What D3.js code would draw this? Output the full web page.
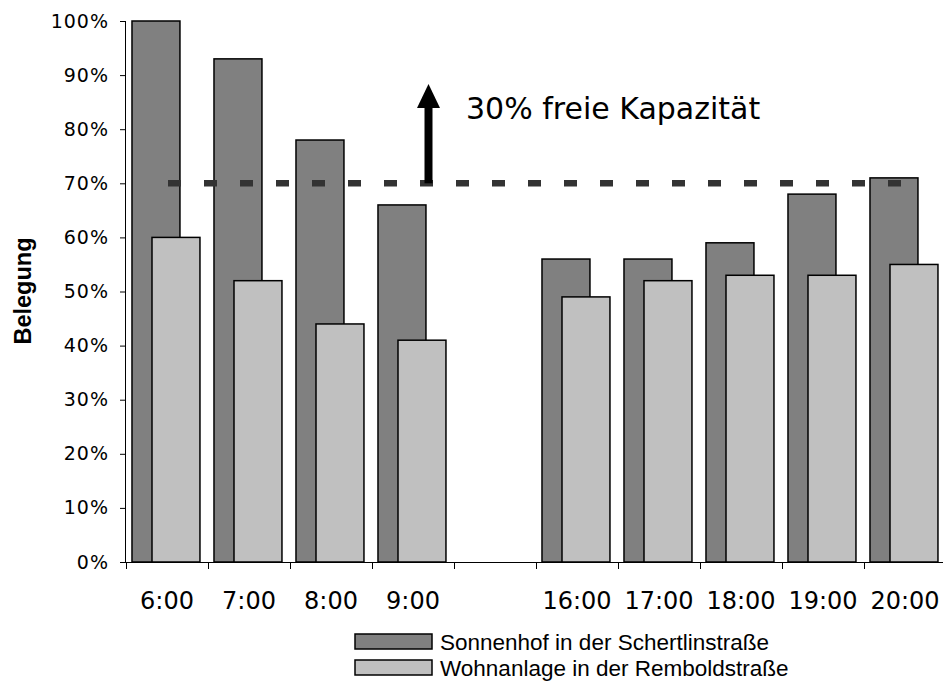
<!DOCTYPE html>
<html>
<head>
<meta charset="utf-8">
<script src="https://cdn.jsdelivr.net/npm/d3@7"></script>
<style>
  body { margin: 0; background: #fff; }
  svg { display: block; }
</style>
</head>
<body>
<script>
// data; the blank slot between 9:00 and 16:00 has no values
let categories = ["6:00", "7:00", "8:00", "9:00", "", "16:00", "17:00", "18:00", "19:00", "20:00"];
let sonnenhof = [100, 93, 78, 66, null, 56, 56, 59, 68, 71];
let wohnanlage = [60, 52, 44, 41, null, 49, 52, 53, 53, 55];
let seriesNames = ["Sonnenhof in der Schertlinstraße", "Wohnanlage in der Remboldstraße"];
let yTicks = [0, 10, 20, 30, 40, 50, 60, 70, 80, 90, 100];
let limit = 70;

let width = 943;
let height = 681;
let plotLeft = 126, plotRight = 946, plotTop = 21, plotBottom = 562;

let svg = d3.select("body").append("svg")
  .attr("width", width)
  .attr("height", height);

let keys = categories.map((c, i) => i);
let x = d3.scaleBand().domain(keys).range([plotLeft, plotRight]);
let y = d3.scaleLinear().domain([0, 100]).range([plotBottom, plotTop]);
let bw = x.bandwidth();

let rows = keys.map((i) => ({ i: i, a: sonnenhof[i], b: wohnanlage[i] }))
  .filter((d) => d.a !== null);

// dark bars behind, light bars in front
svg.selectAll("rect.dark")
  .data(rows)
  .enter()
  .append("rect")
  .classed("dark", true)
  .attr("x", (d) => x(d.i) + bw * 0.073)
  .attr("width", bw * 0.585)
  .attr("y", (d) => y(d.a))
  .attr("height", (d) => y(0) - y(d.a))
  .attr("fill", "#808080")
  .attr("stroke", "#000")
  .attr("stroke-width", 1.5);

svg.selectAll("rect.light")
  .data(rows)
  .enter()
  .append("rect")
  .classed("light", true)
  .attr("x", (d) => x(d.i) + bw * 0.317)
  .attr("width", bw * 0.585)
  .attr("y", (d) => y(d.b))
  .attr("height", (d) => y(0) - y(d.b))
  .attr("fill", "#c0c0c0")
  .attr("stroke", "#000")
  .attr("stroke-width", 1.5);

// y axis
let yAxis = svg.append("g")
  .attr("transform", `translate(${plotLeft},0)`)
  .call(d3.axisLeft(y).tickValues(yTicks).tickSize(6).tickFormat((d) => d + "%"));
yAxis.select(".domain").attr("d", `M-0.5,${plotTop}V${plotBottom}`);
yAxis.selectAll("text")
  .attr("x", -17)
  .attr("font-family", "DejaVu Sans, sans-serif")
  .attr("font-size", 19)
  .attr("letter-spacing", "1px")
  .attr("fill", "#000");

// x axis: ticks at the band edges, labels in the middle
let xAxis = svg.append("g");
xAxis.append("line")
  .attr("x1", plotLeft).attr("x2", width)
  .attr("y1", plotBottom + 0.5).attr("y2", plotBottom + 0.5)
  .attr("stroke", "#000");
xAxis.selectAll("line.tick")
  .data(keys)
  .enter()
  .append("line")
  .classed("tick", true)
  .attr("x1", (d) => Math.round(x(d)) + 0.5)
  .attr("x2", (d) => Math.round(x(d)) + 0.5)
  .attr("y1", plotBottom)
  .attr("y2", plotBottom + 7)
  .attr("stroke", "#000");
xAxis.selectAll("text")
  .data(keys)
  .enter()
  .append("text")
  .text((d) => categories[d])
  .attr("x", (d) => x(d) + bw / 2)
  .attr("y", 609)
  .attr("text-anchor", "middle")
  .attr("font-family", "DejaVu Sans, sans-serif")
  .attr("font-size", 24);

svg.append("text")
  .text("Belegung")
  .attr("transform", "translate(31,291) rotate(-90)")
  .attr("text-anchor", "middle")
  .attr("font-family", "Liberation Sans, Arial, sans-serif")
  .attr("font-weight", "bold")
  .attr("font-size", 23.5);

// 70% line and arrow
svg.append("line")
  .attr("x1", 168).attr("x2", 902)
  .attr("y1", y(limit)).attr("y2", y(limit))
  .attr("stroke", "#333")
  .attr("stroke-width", 6.5)
  .attr("stroke-dasharray", "13,23");

svg.append("line")
  .attr("x1", 428.5).attr("x2", 428.5)
  .attr("y1", y(limit)).attr("y2", 104)
  .attr("stroke", "#000")
  .attr("stroke-width", 8);
svg.append("path")
  .attr("d", "M417,108 L428.5,84 L440,108 Z")
  .attr("fill", "#000");

svg.append("text")
  .text("30% freie Kapazität")
  .attr("x", 466)
  .attr("y", 119)
  .attr("font-family", "DejaVu Sans, sans-serif")
  .attr("font-size", 30);

// legend
let legend = svg.selectAll("g.legend")
  .data(seriesNames)
  .enter()
  .append("g")
  .classed("legend", true)
  .attr("transform", (d, i) => `translate(355,${634 + i * 26})`);
legend.append("rect")
  .attr("width", 77)
  .attr("height", 15)
  .attr("fill", (d, i) => i === 0 ? "#808080" : "#c0c0c0")
  .attr("stroke", "#000")
  .attr("stroke-width", 1.5);
legend.append("text")
  .text((d) => d)
  .attr("x", 85)
  .attr("y", 16)
  .attr("font-family", "Liberation Sans, Arial, sans-serif")
  .attr("font-size", 22.5);
</script>
</body>
</html>
